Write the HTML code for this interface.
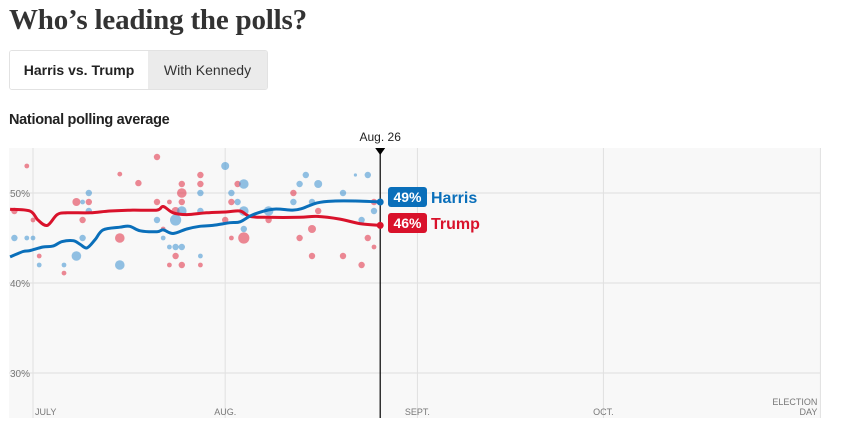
<!DOCTYPE html>
<html><head><meta charset="utf-8">
<style>
body{margin:0;background:#fff;width:842px;height:437px;overflow:hidden;font-family:"Liberation Sans",sans-serif;}
#title{position:absolute;left:9px;top:4px;font-family:"Liberation Serif",serif;font-weight:bold;font-size:29px;color:#333;letter-spacing:-0.2px;}
#toggle{position:absolute;left:9px;top:50px;width:257px;height:38px;border:1px solid #e2e2e2;border-radius:3px;overflow:hidden;display:flex;font-size:14px;}
#toggle div{display:flex;align-items:center;justify-content:center;}
#sub{position:absolute;left:9px;top:112px;font-weight:bold;font-size:14.5px;color:#222;letter-spacing:-0.3px;}
svg{position:absolute;left:0;top:0;}
</style></head><body>
<div id="title">Who’s leading the polls?</div>
<div id="toggle">
 <div style="width:138px;background:#fff;font-weight:bold;color:#222;">Harris vs. Trump</div>
 <div style="flex:1;background:#ebebeb;color:#333;">With Kennedy</div>
</div>
<div id="sub">National polling average</div>
<svg id="chart" width="842" height="437"></svg>
<script>
// Data: day 0 = July 1
const monthLabels=["JULY","AUG.","SEPT.","OCT."];
const monthDays=[0,31,62,92];
const yTicks=[50,40,30];
const harrisDays=[-3.7,-1.6,-0.5,1.6,3.2,4.7,6.5,7.6,8.7,10,11.3,14,15.6,17.3,20,21,22.6,24.8,26.9,29,31.8,33.4,35.5,38.7,41.9,43.5,45.8,48.4,52.7,56];
const harrisVals=[42.9,43.5,43.6,44.0,44.1,44.6,44.7,44.3,43.9,44.8,45.9,46.2,46.3,45.8,45.7,45.9,45.5,46.0,46.3,46.4,46.7,46.8,47.6,48.2,48.1,48.3,48.9,49.1,49.1,49.0];
const trumpDays=[-3.7,-0.5,0.8,2.3,3.9,5.5,9.2,12.4,16.1,20,21,22.6,24.8,28,31.3,33.4,35,37.7,43,45.8,49.5,52.7,56];
const trumpVals=[48.2,48.0,47.0,46.4,47.6,47.8,47.8,48.0,48.1,48.1,48.5,47.8,47.6,47.8,47.9,48.0,47.4,47.3,47.3,47.4,47.1,46.6,46.4];
const redDotDays=[-3,-1,0,1,5,7,9,8,14,17,14,20,20,24,24,27,27,22,24,23,21,23,22,24,27,33,32,31,34,32,42,45,43,45,50,53,54,55,55,46,38];
const redDotVals=[48,53,47,43,41.1,49,49,47,52.1,51.1,45,54,49,50,51,52,51,49,49,48,46,43,42,42,42,51,49,47,45,45,50,46,45,43,43,42,45,44,49,48,47];
const redDotSizes=[4,3,3,3,3,5,4,4,3,4,6,4,4,6,4,4,4,3,4,5,3,4,3,4,3,4,4,4,7,3,4,5,4,4,4,4,4,3,4,4,4];
const blueDotDays=[-3,-1,0,1,5,7,8,9,9,8,14,20,23,24,22,23,24,21,27,27,27,31,32,34,34,34,33,38,43,44,46,45,42,50,54,53,55,52];
const blueDotVals=[45,45,45,42,42,43,45,50,48,49,42,47,47,48,44,44,44,45,43,50,48,53,50,51,48,46,49,48,51,52,51,49,49,50,52,47,48,52];
const blueDotSizes=[4,3,3,3,3,6,4,4,4,3,6,4,7,6,3,4,4,3,3,4,4,5,4,6,6,4,4,6,4,4,5,4,4,4,4,4,4,2];
const todayDay=56, electionDay=127;

const svg=document.getElementById('chart');
const NS='http://www.w3.org/2000/svg';
const X0=33,PXD=6.2;
const x=d=>X0+d*PXD;
const y=v=>193+(50-v)*9;
function mk(tag,attrs,parent){const e=document.createElementNS(NS,tag);for(const k in attrs)e.setAttribute(k,attrs[k]);(parent||svg).appendChild(e);return e;}

const bg=mk('rect',{x:9,y:148,width:811,height:270,fill:'#f8f8f8'});


yTicks.forEach(t=>{
  const l=mk('line',{x1:9,x2:820,y1:y(t),y2:y(t),stroke:'#dedede','stroke-width':1});
  
  
  const tx=mk('text',{x:10,y:y(t)+4,'font-size':10,fill:'#777'});
  tx.textContent=t+'%';
  
  
});
monthDays.concat([electionDay]).forEach((d,i)=>{
  const l=mk('line',{x1:x(d),x2:x(d),y1:148,y2:418,stroke:'#e0e0e0','stroke-width':1});
  
  
});
monthLabels.forEach((m,i)=>{
  const first=i===0;
  const t=mk('text',{x:first?x(monthDays[i])+2:x(monthDays[i]),y:415,'font-size':9,fill:'#777','text-anchor':first?'start':'middle'});
  t.textContent=m;
  
  
});
const e1=mk('text',{x:x(electionDay)-3,y:405,'font-size':9,fill:'#777','text-anchor':'end'});e1.textContent='ELECTION';


const e2=mk('text',{x:x(electionDay)-3,y:415,'font-size':9,fill:'#777','text-anchor':'end'});e2.textContent='DAY';



function dots(days,vals,sizes,col,name){
  days.forEach((d,i)=>{
    const c=mk('circle',{cx:x(d),cy:y(vals[i]),r:sizes[i]*0.8,fill:col,'fill-opacity':0.55});
    
    
  });
}
dots(redDotDays,redDotVals,redDotSizes,'#e0293f','trump-poll-dot');
dots(blueDotDays,blueDotVals,blueDotSizes,'#3b8fd0','harris-poll-dot');

function smooth(days,vals){
  const p=days.map((d,i)=>[x(d),y(vals[i])]);
  let s='M'+p[0][0]+','+p[0][1];
  for(let i=0;i<p.length-1;i++){
    const p0=p[i-1]||p[i],p1=p[i],p2=p[i+1],p3=p[i+2]||p2;
    const c1=[p1[0]+(p2[0]-p0[0])/6,p1[1]+(p2[1]-p0[1])/6];
    const c2=[p2[0]-(p3[0]-p1[0])/6,p2[1]-(p3[1]-p1[1])/6];
    s+=' C'+c1+' '+c2+' '+p2;
  }
  return s;
}
const tl=mk('path',{d:smooth(trumpDays,trumpVals),fill:'none',stroke:'#d9122b','stroke-width':3,'stroke-linejoin':'round'});


const hl=mk('path',{d:smooth(harrisDays,harrisVals),fill:'none',stroke:'#0a6fba','stroke-width':3,'stroke-linejoin':'round'});



const tx=x(todayDay);
const tline=mk('line',{x1:tx,x2:tx,y1:148,y2:418,stroke:'#000','stroke-width':1.2});


const tri=mk('path',{d:`M${tx-5},148 L${tx+5},148 L${tx},155 Z`,fill:'#000'});


const tlab=mk('text',{x:tx,y:141,'font-size':12,fill:'#222','text-anchor':'middle'});tlab.textContent='Aug. 26';



const hv=harrisVals[harrisVals.length-1], tv=trumpVals[trumpVals.length-1];
const hd=mk('circle',{cx:tx,cy:y(hv),r:3.5,fill:'#0a6fba'});


const td=mk('circle',{cx:tx,cy:y(tv),r:3.5,fill:'#d9122b'});



function tag(v,cy,col,name,key){
  const r=mk('rect',{x:388,y:cy-10,width:39,height:20,rx:3,fill:col});
  
  
  const t=mk('text',{x:407.5,y:cy+5,'font-size':14,'font-weight':'bold',fill:'#fff','text-anchor':'middle'});
  t.textContent=Math.round(v)+'%';
  
  
  const n=mk('text',{x:431,y:cy+6,'font-size':16,'font-weight':'bold',fill:col});
  n.textContent=name;
  
  
}
tag(hv,197,'#0a6fba','Harris','harris');
tag(tv,223,'#d9122b','Trump','trump');
</script>
</body></html>
